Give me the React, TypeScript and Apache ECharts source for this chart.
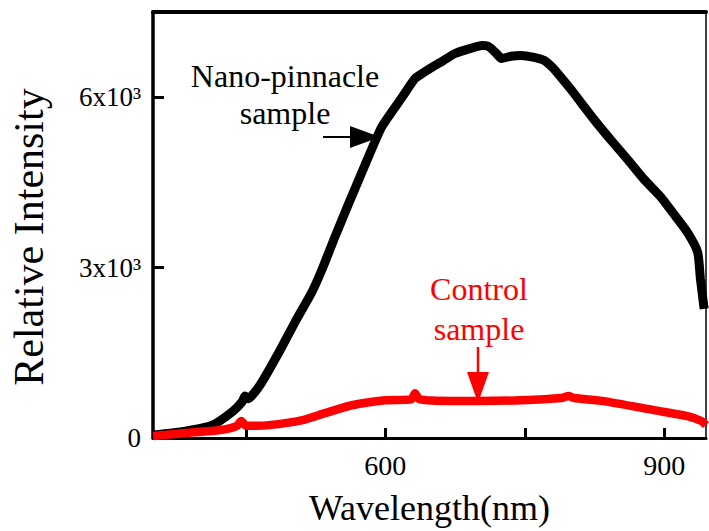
import React, { useEffect, useRef } from "react";
import * as echarts from "echarts";

// Nano-pinnacle sample (black)
const nanoWavelength = [350, 385, 414, 436, 446, 449, 452, 465, 486, 503, 521, 532, 546, 561, 580, 596, 618, 632, 640, 650, 662, 675, 690, 704, 710, 714, 720, 725, 735, 746, 760, 771, 780, 789, 800, 811, 825, 843, 861, 878, 896, 910, 925, 936, 939, 943];
const nanoIntensity = [52, 122, 227, 472, 640, 740, 690, 927, 1522, 2046, 2571, 2973, 3550, 4145, 4880, 5474, 5999, 6331, 6420, 6524, 6640, 6769, 6850, 6909, 6900, 6856, 6760, 6681, 6720, 6734, 6700, 6646, 6520, 6349, 6130, 5894, 5597, 5240, 4897, 4560, 4250, 3950, 3620, 3271, 2798, 2274];

// Control sample (red)
const controlWavelength = [350, 385, 422, 440, 445, 450, 475, 511, 535, 564, 600, 628, 632, 636, 650, 700, 746, 790, 797, 803, 835, 889, 925, 940, 945];
const controlIntensity = [35, 87, 140, 210, 300, 215, 227, 315, 437, 577, 665, 680, 790, 690, 660, 650, 665, 705, 740, 705, 650, 490, 385, 300, 227];

const xMin = 350;
const xMax = 945;
const xTickValues = [450, 600, 750, 900];
const xLabelValues = [600, 900];
const yMin = 0;
const yMax = 7500;
const yTickValues = [3000, 6000];
const yLabelValues = [0, 3000, 6000];

const FONT = "Liberation Serif";

export default function App() {
  const ref = useRef<HTMLDivElement>(null);
  useEffect(() => {
    document.body.style.margin = "0";
    if (!ref.current) return;
    const chart = echarts.init(ref.current, null, { renderer: "svg" });
    const nanoData = nanoWavelength.map((w, i) => [w, nanoIntensity[i]]);
    const controlData = controlWavelength.map((w, i) => [w, controlIntensity[i]]);
    chart.setOption({
      animation: false,
      backgroundColor: "#ffffff",
      textStyle: { fontFamily: FONT },
      title: [
        {
          text: "Nano-pinnacle\nsample",
          left: 285,
          top: 57,
          textAlign: "center",
          padding: 0,
          textStyle: { fontFamily: FONT, fontSize: 32, lineHeight: 37, fontWeight: "normal", color: "#000" },
        },
        {
          text: "Control\nsample",
          left: 479,
          top: 269,
          textAlign: "center",
          padding: 0,
          textStyle: { fontFamily: FONT, fontSize: 32, lineHeight: 40, fontWeight: "normal", color: "#ff0000" },
        },
      ],
      grid: { left: 150, right: 3, top: 12, bottom: 91 },
      xAxis: [
        {
          type: "value",
          min: xMin,
          max: xMax,
          position: "bottom",
          axisLine: { show: true, onZero: false, lineStyle: { color: "#000", width: 3 } },
          axisTick: { show: true, inside: true, length: 10, customValues: xTickValues, lineStyle: { color: "#000", width: 3 } },
          axisLabel: { customValues: xLabelValues, fontSize: 28, margin: 13, color: "#000", fontFamily: FONT },
          splitLine: { show: false },
          name: "Wavelength(nm)",
          nameLocation: "middle",
          nameGap: 52,
          nameTextStyle: { fontSize: 36, color: "#000", fontFamily: FONT },
        },
        {
          type: "value",
          min: xMin,
          max: xMax,
          position: "top",
          axisLine: { show: true, onZero: false, lineStyle: { color: "#000", width: 4 } },
          axisTick: { show: false },
          axisLabel: { show: false },
          splitLine: { show: false },
        },
      ],
      yAxis: [
        {
          type: "value",
          min: yMin,
          max: yMax,
          position: "left",
          axisLine: { show: true, onZero: false, lineStyle: { color: "#000", width: 3.5 } },
          axisTick: { show: true, inside: true, length: 11, customValues: yTickValues, lineStyle: { color: "#000", width: 3 } },
          axisLabel: {
            customValues: yLabelValues,
            fontSize: 27,
            margin: 12,
            color: "#000",
            fontFamily: FONT,
            formatter: (v: number) => (v === 0 ? "0" : `${v / 1000}x10³`),
          },
          splitLine: { show: false },
          name: "Relative Intensity",
          nameLocation: "middle",
          nameGap: 103,
          nameRotate: 90,
          nameTextStyle: { fontSize: 42, color: "#000", fontFamily: FONT, padding: [0, 24, 0, 0] },
        },
        {
          type: "value",
          min: yMin,
          max: yMax,
          position: "right",
          axisLine: { show: true, onZero: false, lineStyle: { color: "#000", width: 1.5 } },
          axisTick: { show: false },
          axisLabel: { show: false },
          splitLine: { show: false },
        },
      ],
      series: [
        {
          name: "Nano-pinnacle sample",
          type: "line",
          data: nanoData,
          showSymbol: false,
          smooth: 0.2,
          lineStyle: { color: "#000", width: 9 },
          z: 2,
        },
        {
          name: "Control sample",
          type: "line",
          data: controlData,
          showSymbol: false,
          smooth: 0.2,
          lineStyle: { color: "#ff0000", width: 8.5 },
          z: 3,
        },
      ],
      graphic: [
        { type: "line", shape: { x1: 323, y1: 137, x2: 352, y2: 137 }, style: { stroke: "#000", lineWidth: 2 } },
        { type: "polygon", shape: { points: [[350, 126], [380, 137], [350, 148]] }, style: { fill: "#000" } },
        { type: "line", shape: { x1: 478, y1: 347, x2: 478, y2: 375 }, style: { stroke: "#ff0000", lineWidth: 2.5 } },
        { type: "polygon", shape: { points: [[467, 372], [489, 372], [478, 403]] }, style: { fill: "#ff0000" } },
      ],
    });
    return () => chart.dispose();
  }, []);
  return <div ref={ref} style={{ width: 709, height: 531 }} />;
}
